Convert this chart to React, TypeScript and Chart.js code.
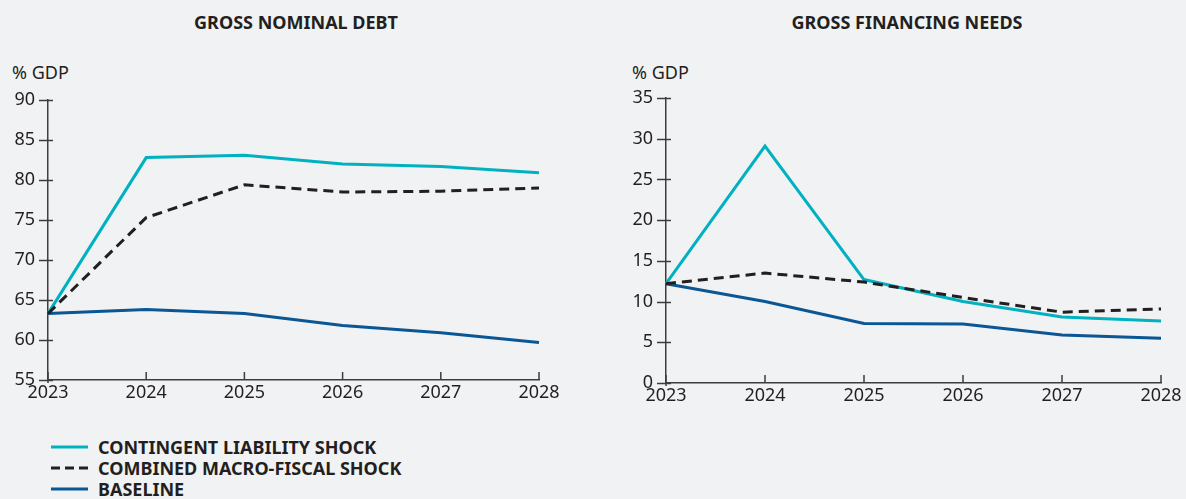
import React, { useEffect, useRef } from "react";
import { Chart, registerables } from "chart.js";

Chart.register(...registerables);

const years = ["2023", "2024", "2025", "2026", "2027", "2028"];

const debtContingent = [63.3, 82.8, 83.1, 82.0, 81.7, 80.9];
const debtCombined = [63.3, 75.3, 79.4, 78.5, 78.6, 79.0];
const debtBaseline = [63.3, 63.8, 63.3, 61.8, 60.9, 59.7];

const gfnContingent = [12.2, 29.1, 12.7, 10.0, 8.1, 7.6];
const gfnCombined = [12.2, 13.5, 12.4, 10.5, 8.7, 9.1];
const gfnBaseline = [12.2, 10.0, 7.3, 7.25, 5.9, 5.5];

const seriesNames = [
  "CONTINGENT LIABILITY SHOCK",
  "COMBINED MACRO-FISCAL SHOCK",
  "BASELINE",
];

const TEAL = "#00b1c1";
const BLACK = "#231f20";
const BLUE = "#0b5694";
const AXIS = "#3d3d3f";
const BG = "#f1f2f4";
const FONT = "'Noto Sans', 'Open Sans', sans-serif";

const tickPlugin = {
  id: "customTicks",
  afterDraw(chart: any) {
    const ctx = chart.ctx;
    const x = chart.scales.x;
    const y = chart.scales.y;
    const area = chart.chartArea;
    ctx.save();
    ctx.strokeStyle = AXIS;
    ctx.lineWidth = 1.5;
    ctx.beginPath();
    y.ticks.forEach((t: any) => {
      const py = Math.round(y.getPixelForValue(t.value)) + 0.5;
      ctx.moveTo(area.left - 9, py);
      ctx.lineTo(area.left + 5, py);
    });
    x.ticks.forEach((t: any, i: number) => {
      const px = x.getPixelForTick(i);
      ctx.moveTo(px, area.bottom);
      ctx.lineTo(px, area.bottom - 8);
    });
    ctx.moveTo(area.left, area.bottom);
    ctx.lineTo(area.left, area.bottom + 3);
    ctx.stroke();
    ctx.restore();
  },
};

function makeConfig(
  a: number[],
  b: number[],
  c: number[],
  min: number,
  max: number,
  yWidth: number,
  xHeight: number,
  padTop: number,
  padRight: number
): any {
  return {
    type: "line",
    data: {
      labels: years,
      datasets: [
        {
          label: seriesNames[1],
          data: b,
          borderColor: BLACK,
          borderWidth: 3,
          borderDash: [10, 6],
          pointRadius: 0,
          tension: 0,
          order: 0,
        },
        {
          label: seriesNames[0],
          data: a,
          borderColor: TEAL,
          borderWidth: 3,
          pointRadius: 0,
          tension: 0,
          order: 1,
        },
        {
          label: seriesNames[2],
          data: c,
          borderColor: BLUE,
          borderWidth: 3,
          pointRadius: 0,
          tension: 0,
          order: 2,
        },
      ],
    },
    options: {
      responsive: false,
      animation: false,
      layout: { padding: { top: padTop, right: padRight, left: 0, bottom: 0 } },
      plugins: { legend: { display: false }, tooltip: { enabled: false } },
      scales: {
        x: {
          offset: false,
          grid: { display: false, drawTicks: false },
          border: { display: true, color: AXIS, width: 1.5 },
          ticks: {
            color: BLACK,
            font: { family: FONT, size: 18 },
            padding: 2,
            maxRotation: 0,
            autoSkip: false,
          },
          afterFit: (s: any) => {
            s.height = xHeight;
          },
        },
        y: {
          min,
          max,
          grid: { display: false, drawTicks: false },
          border: { display: true, color: AXIS, width: 1.5 },
          ticks: {
            stepSize: 5,
            color: BLACK,
            font: { family: FONT, size: 18 },
            padding: 13,
          },
          afterFit: (s: any) => {
            s.width = yWidth;
          },
        },
      },
    },
    plugins: [tickPlugin],
  };
}

function ChartBox(props: { config: any; left: number; width: number; height: number }) {
  const ref = useRef<HTMLCanvasElement>(null);
  useEffect(() => {
    const chart = new Chart(ref.current as HTMLCanvasElement, props.config);
    return () => chart.destroy();
  }, []);
  return (
    <canvas
      ref={ref}
      width={props.width}
      height={props.height}
      style={{ position: "absolute", left: props.left, top: 0, width: props.width, height: props.height }}
    />
  );
}

function LegendLine(props: { color: string; dash?: boolean }) {
  return (
    <svg width={40} height={6} style={{ display: "block" }}>
      <line
        x1={1}
        y1={3}
        x2={38}
        y2={3}
        stroke={props.color}
        strokeWidth={3}
        strokeDasharray={props.dash ? "9 5" : undefined}
      />
    </svg>
  );
}

export default function App() {
  const leftCfg = makeConfig(debtContingent, debtCombined, debtBaseline, 55, 90, 48, 40, 100, 54);
  const rightCfg = makeConfig(gfnContingent, gfnCombined, gfnBaseline, 0, 35, 73, 37, 98, 25);
  const titleStyle: any = {
    position: "absolute",
    top: 10,
    fontFamily: FONT,
    fontWeight: 700,
    fontSize: 18,
    color: BLACK,
    whiteSpace: "nowrap",
    transform: "translateX(-50%)",
  };
  const unitStyle: any = {
    position: "absolute",
    top: 60,
    fontFamily: FONT,
    fontSize: 18,
    color: BLACK,
    whiteSpace: "nowrap",
  };
  const rows = [
    { name: seriesNames[0], color: TEAL, dash: false },
    { name: seriesNames[1], color: BLACK, dash: true },
    { name: seriesNames[2], color: BLUE, dash: false },
  ];
  return (
    <div style={{ position: "fixed", left: 0, top: 0, width: 1186, height: 499, background: BG, overflow: "hidden" }}>
      <div style={{ ...titleStyle, left: 296 }}>GROSS NOMINAL DEBT</div>
      <div style={{ ...titleStyle, left: 907 }}>GROSS FINANCING NEEDS</div>
      <div style={{ ...unitStyle, left: 12 }}>% GDP</div>
      <div style={{ ...unitStyle, left: 632 }}>% GDP</div>
      <ChartBox config={leftCfg} left={0} width={593} height={420} />
      <ChartBox config={rightCfg} left={593} width={593} height={420} />
      <div style={{ position: "absolute", left: 50, top: 437 }}>
        {rows.map((r) => (
          <div key={r.name} style={{ display: "flex", alignItems: "center", height: 20.7 }}>
            <LegendLine color={r.color} dash={r.dash} />
            <span
              style={{
                marginLeft: 8,
                fontFamily: FONT,
                fontWeight: 700,
                fontSize: 18,
                color: BLACK,
                whiteSpace: "nowrap",
                lineHeight: "20px",
              }}
            >
              {r.name}
            </span>
          </div>
        ))}
      </div>
    </div>
  );
}
